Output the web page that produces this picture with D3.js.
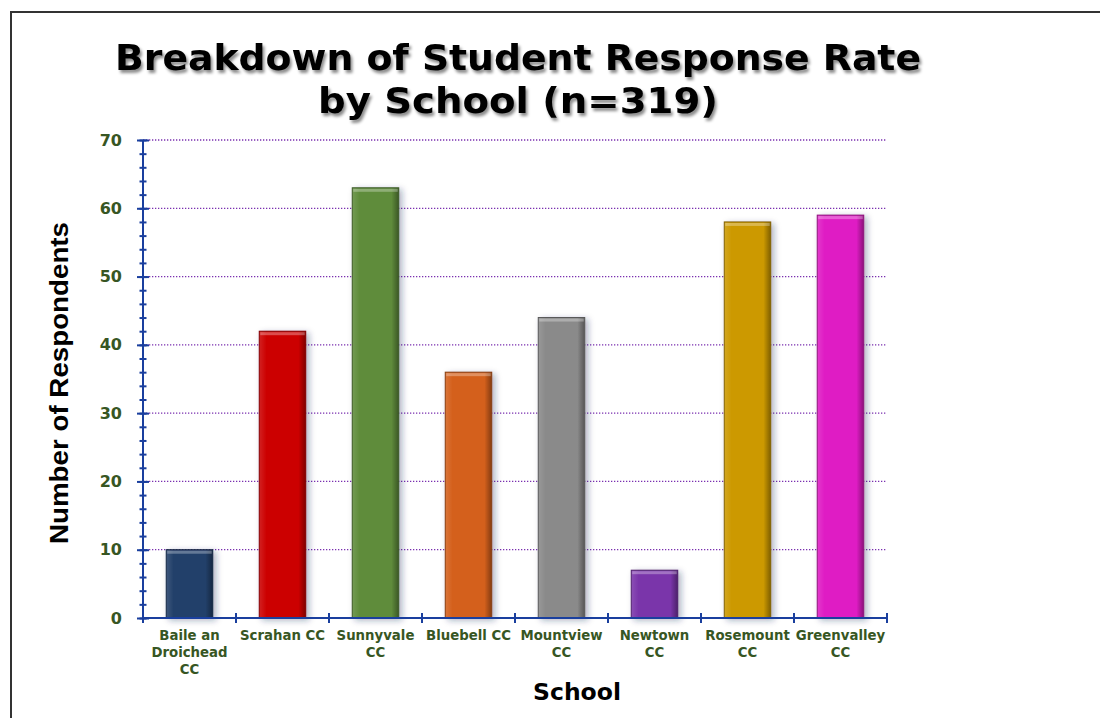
<!DOCTYPE html>
<html>
<head>
<meta charset="utf-8">
<script src="https://cdn.jsdelivr.net/npm/d3@7"></script>
<style>
  body { margin: 0; background: #fff; }
  svg { display: block; }
</style>
</head>
<body>
<svg width="1100" height="718"></svg>
<script>
var schools = [["Baile an", "Droichead", "CC"], ["Scrahan CC"], ["Sunnyvale", "CC"], ["Bluebell CC"],
               ["Mountview", "CC"], ["Newtown", "CC"], ["Rosemount", "CC"], ["Greenvalley", "CC"]];
var respondents = [10, 42, 63, 36, 44, 7, 58, 59];
var barColors = ["#243f6b", "#cc0000", "#5e8c3b", "#d4611a", "#8a8a8a", "#7a35aa", "#cc9900", "#df1cc4"];
var yTicks = [0, 10, 20, 30, 40, 50, 60, 70];

var svg = d3.select("svg");

// frame
svg.append("path")
  .attr("d", "M11,718 V12 H1100")
  .attr("fill", "none")
  .attr("stroke", "#333")
  .attr("stroke-width", 2);

var defs = svg.append("defs");
var shadow = defs.append("filter").attr("id", "shadow")
  .attr("x", "-30%").attr("y", "-30%").attr("width", "160%").attr("height", "160%");
shadow.append("feDropShadow").attr("dx", 3).attr("dy", 2).attr("stdDeviation", 3)
  .attr("flood-color", "#1f2a55").attr("flood-opacity", 0.35);

var tshadow = defs.append("filter").attr("id", "tshadow")
  .attr("x", "-5%").attr("y", "-20%").attr("width", "110%").attr("height", "150%");
tshadow.append("feDropShadow").attr("dx", 2).attr("dy", 3).attr("stdDeviation", 1.5)
  .attr("flood-color", "#000").attr("flood-opacity", 0.45);

var shade = defs.append("linearGradient").attr("id", "shade")
  .attr("x1", 0).attr("x2", 1).attr("y1", 0).attr("y2", 0);
shade.append("stop").attr("offset", "0%").attr("stop-color", "#fff").attr("stop-opacity", 0.12);
shade.append("stop").attr("offset", "15%").attr("stop-color", "#fff").attr("stop-opacity", 0.0);
shade.append("stop").attr("offset", "85%").attr("stop-color", "#000").attr("stop-opacity", 0.0);
shade.append("stop").attr("offset", "100%").attr("stop-color", "#000").attr("stop-opacity", 0.35);

var plotLeft = 143, plotRight = 887, plotTop = 140, plotBottom = 618;

var x = d3.scaleBand()
  .domain(d3.range(schools.length))
  .range([plotLeft, plotRight])
  .paddingInner(0.5)
  .paddingOuter(0.25);

var xOuter = d3.scaleBand()
  .domain(d3.range(schools.length))
  .range([plotLeft, plotRight]);

var y = d3.scaleLinear().domain([0, 70]).range([plotBottom, plotTop]);

// title
var title = svg.append("text")
  .attr("text-anchor", "middle")
  .attr("font-family", "DejaVu Sans, Verdana, sans-serif")
  .attr("font-weight", "bold")
  .attr("font-size", 35)
  .attr("fill", "#000")
  .attr("filter", "url(#tshadow)");
title.append("tspan").attr("x", 518).attr("y", 70)
  .attr("textLength", 806).attr("lengthAdjust", "spacingAndGlyphs")
  .text("Breakdown of Student Response Rate");
title.append("tspan").attr("x", 518).attr("y", 113)
  .attr("textLength", 400).attr("lengthAdjust", "spacingAndGlyphs")
  .text("by School (n=319)");

// gridlines
svg.append("g")
  .selectAll("line")
  .data(yTicks.filter(function(d) { return d > 0; }))
  .enter().append("line")
    .attr("x1", plotLeft).attr("x2", plotRight)
    .attr("y1", function(d) { return y(d); })
    .attr("y2", function(d) { return y(d); })
    .attr("stroke", "#7a2fb0")
    .attr("stroke-width", 1.3)
    .attr("stroke-dasharray", "1.3,1.7");

// bars
var bars = svg.append("g").selectAll("g")
  .data(respondents)
  .enter().append("g");

bars.append("rect")
  .attr("x", function(d, i) { return x(i); })
  .attr("y", function(d) { return y(d); })
  .attr("width", x.bandwidth())
  .attr("height", function(d) { return y(0) - y(d); })
  .attr("fill", function(d, i) { return barColors[i]; })
  .attr("stroke", function(d, i) { return d3.color(barColors[i]).darker(1.3); })
  .attr("stroke-width", 1)
  .attr("filter", "url(#shadow)");

bars.append("rect")
  .attr("x", function(d, i) { return x(i) + 0.5; })
  .attr("y", function(d) { return y(d) + 0.5; })
  .attr("width", x.bandwidth() - 1)
  .attr("height", function(d) { return y(0) - y(d) - 1; })
  .attr("fill", "url(#shade)");

bars.append("rect")
  .attr("x", function(d, i) { return x(i) + 1; })
  .attr("y", function(d) { return y(d) + 1; })
  .attr("width", x.bandwidth() - 2)
  .attr("height", 3)
  .attr("fill", "#fff")
  .attr("opacity", 0.3);

// y axis
var axisColor = "#1a3f9e";
var yAxisMinor = d3.axisLeft(y).tickValues(d3.range(0, 71, 2)).tickSize(4).tickFormat("");
svg.append("g")
  .attr("transform", "translate(" + (plotLeft + 3.5) + ",0)")
  .call(yAxisMinor)
  .call(function(g) {
    g.select(".domain").remove();
    g.selectAll("line").attr("stroke", axisColor).attr("stroke-width", 2).attr("x2", -7);
  });

var yAxis = d3.axisLeft(y).tickValues(yTicks).tickSize(5).tickPadding(16);
svg.append("g")
  .attr("transform", "translate(" + plotLeft + ",0)")
  .call(yAxis)
  .call(function(g) {
    g.select(".domain").remove();
    g.selectAll("line").attr("stroke", axisColor).attr("stroke-width", 2).attr("x2", -6).attr("x1", 6);
    g.selectAll("text")
      .attr("fill", "#375623")
      .attr("font-family", "DejaVu Sans, Verdana, sans-serif")
      .attr("font-weight", "bold")
      .attr("font-size", 16);
  });

svg.append("line")
  .attr("x1", plotLeft).attr("x2", plotLeft)
  .attr("y1", plotTop).attr("y2", plotBottom)
  .attr("stroke", axisColor).attr("stroke-width", 2);

// x axis
svg.append("line")
  .attr("x1", plotLeft).attr("x2", plotRight)
  .attr("y1", plotBottom).attr("y2", plotBottom)
  .attr("stroke", axisColor).attr("stroke-width", 2);

svg.append("g").selectAll("line")
  .data(d3.range(schools.length + 1))
  .enter().append("line")
    .attr("x1", function(d) { return d < schools.length ? xOuter(d) : plotRight; })
    .attr("x2", function(d) { return d < schools.length ? xOuter(d) : plotRight; })
    .attr("y1", plotBottom - 5).attr("y2", plotBottom + 5)
    .attr("stroke", axisColor).attr("stroke-width", 2);

var xLabels = svg.append("g").selectAll("text")
  .data(schools)
  .enter().append("text")
    .attr("text-anchor", "middle")
    .attr("fill", "#375623")
    .attr("font-family", "DejaVu Sans, Verdana, sans-serif")
    .attr("font-weight", "bold")
    .attr("font-size", 13.3);

xLabels.each(function(lines, i) {
  var t = d3.select(this);
  lines.forEach(function(line, j) {
    t.append("tspan")
      .attr("x", x(i) + x.bandwidth() / 2)
      .attr("y", 640 + j * 17)
      .text(line);
  });
});

// axis titles
svg.append("text")
  .attr("x", 577).attr("y", 700)
  .attr("text-anchor", "middle")
  .attr("font-family", "DejaVu Sans, Verdana, sans-serif")
  .attr("font-weight", "bold")
  .attr("font-size", 23.5)
  .attr("fill", "#000")
  .text("School");

svg.append("text")
  .attr("transform", "translate(68,383) rotate(-90)")
  .attr("text-anchor", "middle")
  .attr("font-family", "Liberation Sans, Arial, sans-serif")
  .attr("font-weight", "bold")
  .attr("font-size", 25)
  .attr("textLength", 322).attr("lengthAdjust", "spacingAndGlyphs")
  .attr("fill", "#000")
  .text("Number of Respondents");
</script>
</body>
</html>
